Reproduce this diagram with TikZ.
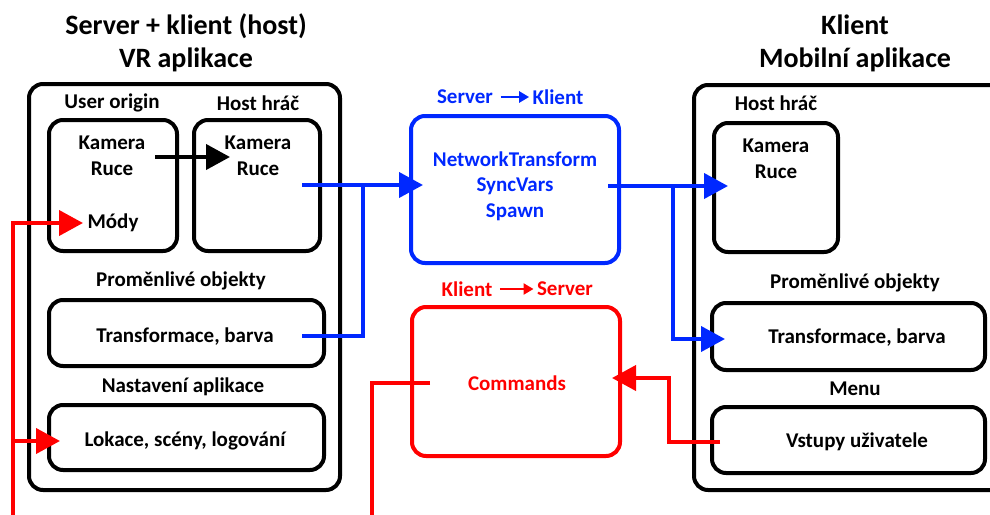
\documentclass[tikz,border=0pt]{standalone}
\usepackage{fontspec}
\setmainfont{Carlito}
\usetikzlibrary{arrows.meta}
\definecolor{netblue}{RGB}{0,40,255}
\definecolor{cmdred}{RGB}{255,0,0}
\tikzset{
  box/.style={draw, line width=4pt, rounded corners=14pt, inner sep=0pt},
  lbl/.style={font=\bfseries\fontsize{21}{25.5}\selectfont, align=center},
  ttl/.style={font=\bfseries\fontsize{28}{33}\selectfont, align=center},
  link/.style={line width=4pt},
  tip/.style={-{Triangle[length=24pt,width=25pt]}},
  smalltip/.style={line width=2.5pt, shorten <=4pt, -{Triangle[length=10pt,width=11pt]}},
}
\begin{document}
\begin{tikzpicture}[x=1pt,y=-1pt]
  \useasboundingbox (0,0) rectangle (990,514);
  \clip (0,0) rectangle (990,514);

  % server + host (VR)
  \node [ttl] (vrtitle) at (186,43) {Server + klient (host)\\VR aplikace};
  \node [box, minimum width=311, minimum height=406] (vrapp) at (184.5,287) {};
  \node [lbl] (originlbl) at (112,103) {User origin};
  \node [lbl] (hostlbl) at (258,103) {Host hráč};
  \node [box, minimum width=128, minimum height=131] (origin) at (113,185.5) {};
  \node [box, minimum width=126, minimum height=131] (host) at (257,185.5) {};
  \node [lbl] (origincam) at (112,156) {Kamera\\Ruce};
  \node [lbl] (modes) at (113,223) {Módy};
  \node [lbl] (hostcam) at (258,156) {Kamera\\Ruce};
  \node [lbl] (varlbl) at (181,281) {Proměnlivé objekty};
  \node [box, minimum width=275, minimum height=66] (vars) at (186.5,333) {};
  \node [lbl] (varstext) at (185,337) {Transformace, barva};
  \node [lbl] (setlbl) at (183,387) {Nastavení aplikace};
  \node [box, minimum width=275, minimum height=65] (settings) at (186.5,437.5) {};
  \node [lbl] (settext) at (185,441) {Lokace, scény, logování};

  % network
  \node [lbl, netblue] (sname) at (465,97) {Server};
  \node [lbl, netblue] (kname) at (558,97) {Klient};
  \draw [netblue, smalltip] (sname) -- (kname);
  \node [box, netblue, minimum width=208, minimum height=147] (sync) at (515,189.5) {};
  \node [lbl, netblue] (synctext) at (515,186) {NetworkTransform\\SyncVars\\Spawn};

  \node [lbl, cmdred] (kname2) at (467,289) {Klient};
  \node [lbl, cmdred] (sname2) at (565,289) {Server};
  \draw [cmdred, smalltip] (kname2) -- (sname2);
  \node [box, cmdred, minimum width=208, minimum height=149] (cmds) at (516,381.5) {};
  \node [lbl, cmdred] (cmdtext) at (517,383) {Commands};

  % client (mobile)
  \node [ttl] (mobtitle) at (855,43) {Klient\\Mobilní aplikace};
  \node [box, minimum width=316, minimum height=405] (mobapp) at (852,287.5) {};
  \node [lbl] (mhostlbl) at (776,103) {Host hráč};
  \node [box, minimum width=124, minimum height=129] (mhost) at (776,187.5) {};
  \node [lbl] (mhostcam) at (776,159) {Kamera\\Ruce};
  \node [lbl] (mvarlbl) at (855,283) {Proměnlivé objekty};
  \node [box, minimum width=273, minimum height=67] (mvars) at (848.5,336.5) {};
  \node [lbl] (mvarstext) at (857,338) {Transformace, barva};
  \node [lbl] (menulbl) at (855,389) {Menu};
  \node [box, minimum width=273, minimum height=66] (menu) at (848.5,440) {};
  \node [lbl] (menutext) at (857,442) {Vstupy uživatele};

  % connector points
  \coordinate (camout) at (155,157);
  \coordinate (camin) at (230,157);
  \coordinate (hostout) at (302,185);
  \coordinate (varsout) at (302,336);
  \coordinate (bjoin) at (363,185);
  \coordinate (syncin) at (423,185);
  \coordinate (syncout) at (608,186);
  \coordinate (cjoin) at (673,186);
  \coordinate (mhostin) at (728,186);
  \coordinate (mvarsin) at (725,339);
  \coordinate (inputout) at (720,442);
  \coordinate (rjoin) at (669,378);
  \coordinate (cmdin) at (612,378);
  \coordinate (cmdout) at (430,383);
  \coordinate (rdown) at (372,520);
  \coordinate (rleft) at (13,520);
  \coordinate (modesin) at (83,223);
  \coordinate (setin) at (60,441);

  \draw [link, tip] (camout) -- (camin);
  \draw [link, netblue, tip] (hostout) -- (syncin);
  \draw [link, netblue] (varsout) -| (bjoin);
  \draw [link, netblue, tip] (syncout) -- (mhostin);
  \draw [link, netblue, tip] (cjoin) |- (mvarsin);
  \draw [link, cmdred, tip] (inputout) -| (rjoin) -- (cmdin);
  \draw [link, cmdred] (cmdout) -| (rdown);
  \draw [link, cmdred, tip] (rleft) |- (modesin);
  \draw [link, cmdred, tip] (rleft |- setin) -- (setin);
\end{tikzpicture}
\end{document}
